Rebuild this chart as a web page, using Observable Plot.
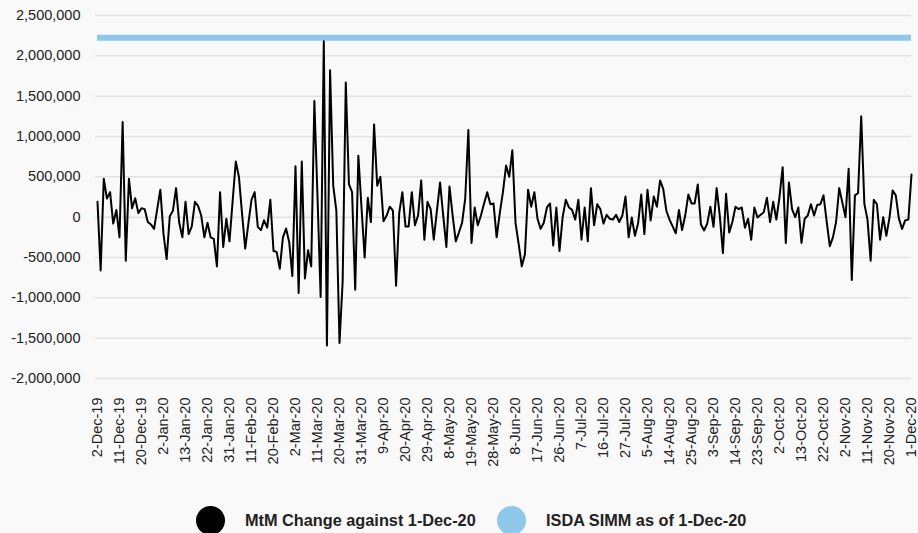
<!DOCTYPE html>
<html>
<head>
<meta charset="utf-8">
<script src="https://cdn.jsdelivr.net/npm/d3@7"></script>
<script src="https://cdn.jsdelivr.net/npm/@observablehq/plot@0.6"></script>
<style>
  html, body { margin: 0; padding: 0; background: #f9f9f9; }
  body { width: 918px; height: 533px; overflow: hidden; font-family: "Liberation Sans", Arial, sans-serif; }
  #legend { position: relative; height: 53px; }
  .item { position: absolute; top: 26px; display: flex; align-items: center; font-weight: bold; font-size: 16.3px; color: #222; }
  .dot { width: 29px; height: 29px; border-radius: 50%; margin-right: 20px; flex: none; }
</style>
</head>
<body>
<div id="chart"></div>
<div id="legend">
  <div class="item" style="left:196px"><span class="dot" style="background:#000"></span>MtM Change against 1-Dec-20</div>
  <div class="item" style="left:497px"><span class="dot" style="background:#8ec8ea"></span>ISDA SIMM as of 1-Dec-20</div>
</div>
<script>
// Daily MtM change (in millions), one value per business day, 2-Dec-19 .. 1-Dec-20
const mtmMillions = [
  0.19, -0.66, 0.475, 0.23, 0.31, -0.08, 0.09, -0.25, 1.18, -0.54,
  0.475, 0.11, 0.235, 0.05, 0.11, 0.10, -0.06, -0.09, -0.145, 0.10,
  0.34, -0.21, -0.52, 0.01, 0.08, 0.36, -0.07, -0.25, 0.19, -0.21,
  -0.115, 0.19, 0.14, 0.02, -0.25, -0.07, -0.25, -0.27, -0.61, 0.31,
  -0.37, -0.02, -0.30, 0.20, 0.69, 0.50, 0.04, -0.39, -0.08, 0.215,
  0.31, -0.12, -0.16, -0.04, -0.13, 0.215, -0.42, -0.43, -0.64, -0.25,
  -0.14, -0.31, -0.73, 0.63, -0.94, 0.69, -0.76, -0.41, -0.61, 1.44,
  0.25, -0.99, 2.18, -1.59, 1.82, 0.39, 0.08, -1.56, -0.80, 1.67,
  0.41, 0.31, -0.90, 0.76, 0.12, -0.50, 0.24, -0.06, 1.15, 0.39,
  0.50, -0.05, 0.02, 0.13, 0.08, -0.85, 0.05, 0.31, -0.115, -0.115,
  0.31, -0.10, 0.02, 0.455, -0.28, 0.19, 0.10, -0.28, 0.08, 0.43,
  0.02, -0.37, 0.38, 0.02, -0.30, -0.19, -0.07, 0.23, 1.08, -0.32,
  0.12, -0.10, 0.02, 0.17, 0.31, 0.16, 0.17, -0.25, 0.05, 0.31,
  0.64, 0.50, 0.83, -0.07, -0.33, -0.61, -0.46, 0.34, 0.13, 0.31,
  -0.02, -0.145, -0.07, 0.12, 0.17, -0.35, 0.12, -0.42, 0.00, 0.215,
  0.12, 0.09, -0.03, 0.215, -0.28, 0.12, -0.30, 0.36, -0.10, 0.16,
  0.10, -0.08, 0.03, -0.02, -0.03, 0.03, -0.06, 0.02, 0.255, -0.25,
  -0.005, -0.23, -0.08, 0.28, -0.21, 0.34, -0.04, 0.255, 0.13, 0.455,
  0.35, 0.08, -0.03, -0.115, -0.20, 0.09, -0.16, 0.02, 0.28, 0.17,
  0.17, 0.405, -0.09, -0.165, -0.08, 0.13, -0.12, 0.36, 0.02, -0.445,
  0.29, -0.19, -0.06, 0.13, 0.10, 0.12, -0.13, -0.02, -0.28, 0.12,
  -0.005, 0.03, 0.06, 0.24, -0.06, 0.19, -0.03, 0.25, 0.62, -0.32,
  0.43, 0.10, 0.00, 0.12, -0.32, -0.02, 0.02, 0.16, 0.02, 0.15,
  0.16, 0.27, -0.05, -0.36, -0.25, -0.06, 0.36, 0.18, 0.00, 0.60,
  -0.78, 0.27, 0.30, 1.25, 0.165, -0.03, -0.54, 0.215, 0.16, -0.28,
  0.00, -0.23, -0.005, 0.33, 0.27, -0.02, -0.145, -0.04, -0.03, 0.53
];

// ISDA SIMM level as of 1-Dec-20
const simmValue = 2225000;

// Category labels shown every 7 business days
const tickLabels = [
  "2-Dec-19", "11-Dec-19", "20-Dec-19", "2-Jan-20", "13-Jan-20", "22-Jan-20",
  "31-Jan-20", "11-Feb-20", "20-Feb-20", "2-Mar-20", "11-Mar-20", "20-Mar-20",
  "31-Mar-20", "9-Apr-20", "20-Apr-20", "29-Apr-20", "8-May-20", "19-May-20",
  "28-May-20", "8-Jun-20", "17-Jun-20", "26-Jun-20", "7-Jul-20", "16-Jul-20",
  "27-Jul-20", "5-Aug-20", "14-Aug-20", "25-Aug-20", "3-Sep-20", "14-Sep-20",
  "23-Sep-20", "2-Oct-20", "13-Oct-20", "22-Oct-20", "2-Nov-20", "11-Nov-20",
  "20-Nov-20", "1-Dec-20"
];
const tickStep = 7;

const yTicks = [-2000000, -1500000, -1000000, -500000, 0, 500000, 1000000, 1500000, 2000000, 2500000];

const data = mtmMillions.map((v, i) => ({ i, value: v * 1e6 }));
const lastIndex = data.length - 1;
const xTicks = tickLabels.map((_, k) => k * tickStep);

const chart = Plot.plot({
  width: 918,
  height: 480,
  marginTop: 15,
  marginBottom: 102,
  marginLeft: 95,
  marginRight: 7,
  style: { background: "transparent", fontFamily: "'Liberation Sans', Arial, sans-serif", color: "#222", fontSize: "14.5px" },
  x: {
    domain: [0, lastIndex], insetLeft: 2, label: null,
    ticks: xTicks, tickFormat: i => tickLabels[Math.round(i / tickStep)],
    tickRotate: -90, tickSize: 0, tickPadding: 19
  },
  y: {
    domain: [-2000000, 2500000], label: null,
    ticks: yTicks, tickFormat: d => d.toLocaleString("en-US"),
    tickSize: 0, tickPadding: 15
  },
  marks: [
    Plot.ruleY(yTicks, { stroke: "#e2e2e2", strokeWidth: 1.5 }),
    Plot.ruleY([simmValue], { x1: 0, x2: lastIndex, stroke: "#8ec8ea", strokeWidth: 6 }),
    Plot.line(data, { x: "i", y: "value", stroke: "#000", strokeWidth: 2 })
  ]
});
document.getElementById("chart").appendChild(chart);
</script>
</body>
</html>
